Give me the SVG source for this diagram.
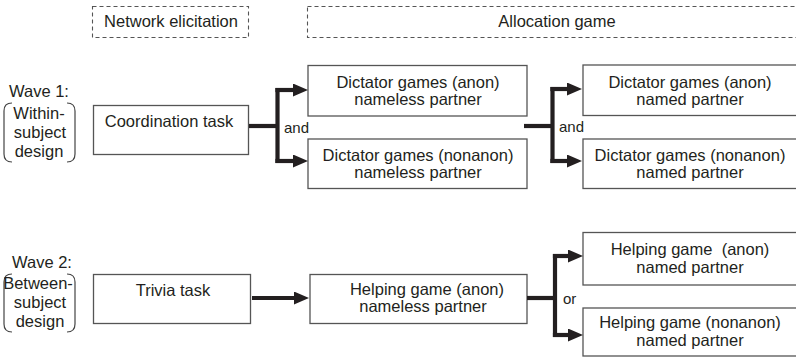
<svg xmlns="http://www.w3.org/2000/svg" width="796" height="359" viewBox="0 0 796 359">
<style>
  text { font-family: "Liberation Sans", Arial, sans-serif; font-size: 16.5px; fill: #231f20; }
  .c { text-anchor: middle; }
  .lbl { font-size: 15px; }
  .box { fill: #fff; stroke: #555; stroke-width: 1.3; }
  .dash { fill: none; stroke: #555; stroke-width: 1.1; stroke-dasharray: 4 3; }
  .brace { fill: none; stroke: #444; stroke-width: 1.2; }
  .conn { fill: none; stroke: #231f20; stroke-width: 4.2; }
</style>
<defs>
  <marker id="ah" viewBox="0 0 15 13" refX="1" refY="6.5" markerWidth="15" markerHeight="13" markerUnits="userSpaceOnUse" orient="auto">
    <path d="M0 0 L15 6.5 L0 13 Z" fill="#231f20"/>
  </marker>
</defs>
<rect width="796" height="359" fill="#fff"/>

<g id="hdr-network">
  <rect class="dash" x="92.5" y="6.5" width="156" height="31"/>
  <text class="c" x="171" y="27">Network elicitation</text>
</g>
<g id="hdr-allocation">
  <rect class="dash" x="307.5" y="6.5" width="500" height="31"/>
  <text class="c" x="557" y="27">Allocation game</text>
</g>

<g id="wave1">
  <text x="9" y="97">Wave 1:</text>
  <path class="brace" d="M12 103 Q4 103 4 111 L4 154 Q4 162 12 162"/>
  <path class="brace" d="M67 103 Q75 103 75 111 L75 154 Q75 162 67 162"/>
  <text class="c" x="39" y="119">Within-</text>
  <text class="c" x="40" y="138">subject</text>
  <text class="c" x="39" y="157">design</text>
</g>
<g id="wave2">
  <text x="12" y="268">Wave 2:</text>
  <path class="brace" d="M12 274 Q4 274 4 282 L4 324 Q4 332 12 332"/>
  <path class="brace" d="M67 274 Q75 274 75 282 L75 324 Q75 332 67 332"/>
  <text class="c" x="38" y="289">Between-</text>
  <text class="c" x="40" y="308">subject</text>
  <text class="c" x="40" y="327">design</text>
</g>

<g id="coord">
  <rect class="box" x="93.5" y="105.5" width="155" height="49"/>
  <text class="c" x="169" y="127">Coordination task</text>
</g>
<g id="dg-anon-nameless">
  <rect class="box" x="308" y="65.5" width="219" height="50.5"/>
  <text class="c" x="418" y="88">Dictator games (anon)</text>
  <text class="c" x="418" y="105">nameless partner</text>
</g>
<g id="dg-nonanon-nameless">
  <rect class="box" x="308" y="139" width="219" height="49.5"/>
  <text class="c" x="418" y="161">Dictator games (nonanon)</text>
  <text class="c" x="418" y="178">nameless partner</text>
</g>
<g id="dg-anon-named">
  <rect class="box" x="583" y="65" width="230" height="50.5"/>
  <text class="c" x="690" y="88">Dictator games (anon)</text>
  <text class="c" x="690" y="105">named partner</text>
</g>
<g id="dg-nonanon-named">
  <rect class="box" x="583" y="139" width="230" height="49.5"/>
  <text class="c" x="690" y="161">Dictator games (nonanon)</text>
  <text class="c" x="690" y="178">named partner</text>
</g>

<g id="trivia">
  <rect class="box" x="93.5" y="274.5" width="157" height="49"/>
  <text class="c" x="173" y="296">Trivia task</text>
</g>
<g id="hg-anon-nameless">
  <rect class="box" x="310" y="274.5" width="217" height="49"/>
  <text class="c" x="427" y="295">Helping game (anon)</text>
  <text class="c" x="423" y="312">nameless partner</text>
</g>
<g id="hg-anon-named">
  <rect class="box" x="583" y="232.5" width="230" height="52.5"/>
  <text class="c" x="690" y="255" xml:space="preserve">Helping game  (anon)</text>
  <text class="c" x="690" y="273">named partner</text>
</g>
<g id="hg-nonanon-named">
  <rect class="box" x="583" y="308" width="230" height="48"/>
  <text class="c" x="690" y="328">Helping game (nonanon)</text>
  <text class="c" x="690" y="346">named partner</text>
</g>

<g id="connectors">
  <path class="conn" d="M249 126 H277.5"/>
  <path class="conn" d="M277.5 88 V163"/>
  <path class="conn" d="M275.4 90 H294" marker-end="url(#ah)"/>
  <path class="conn" d="M275.4 161 H294" marker-end="url(#ah)"/>
  <text class="lbl" x="284" y="133">and</text>

  <path class="conn" d="M524 126 H552.5"/>
  <path class="conn" d="M552.5 87 V163"/>
  <path class="conn" d="M550.4 89 H568" marker-end="url(#ah)"/>
  <path class="conn" d="M550.4 161 H568" marker-end="url(#ah)"/>
  <text class="lbl" x="559" y="132">and</text>

  <path class="conn" d="M252 298 H295" marker-end="url(#ah)"/>

  <path class="conn" d="M527 298 H555"/>
  <path class="conn" d="M555 254 V337"/>
  <path class="conn" d="M552.9 256 H569" marker-end="url(#ah)"/>
  <path class="conn" d="M552.9 335 H569" marker-end="url(#ah)"/>
  <text class="lbl" x="563" y="304">or</text>
</g>
</svg>
